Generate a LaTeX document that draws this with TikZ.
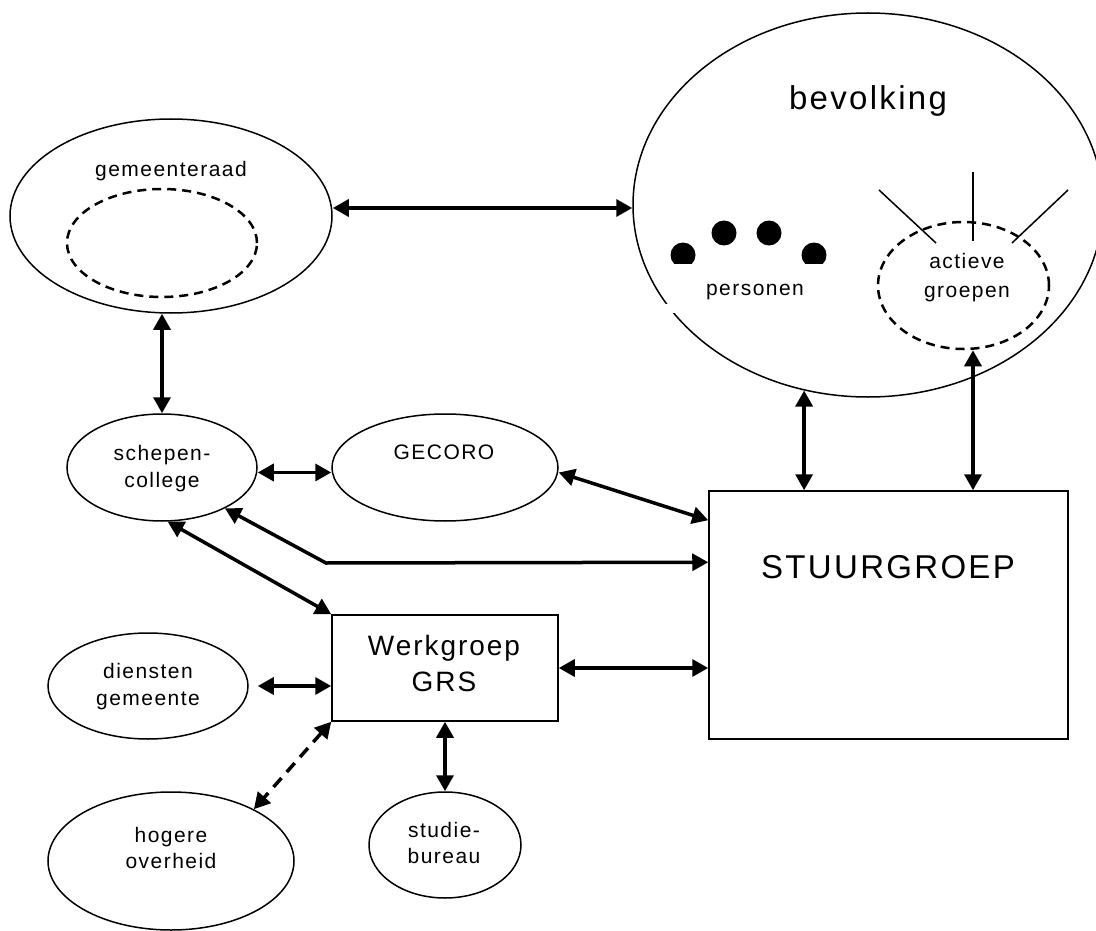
\documentclass[tikz,border=0pt]{standalone}
\usepackage{fontspec}
\setmainfont{Liberation Sans}[LetterSpace=7]
\usetikzlibrary{shapes.geometric,arrows.meta,calc}
\tikzset{
  ell/.style={draw, ellipse, line width=1.5pt, inner sep=0pt},
  dell/.style={draw, ellipse, line width=2.5pt, dash pattern=on 9pt off 6pt, inner sep=0pt},
  boxnode/.style={draw, rectangle, line width=1.5pt, inner sep=0pt},
  tip/.tip={Triangle[length=16pt,width=17pt]},
  biarr/.style={line width=3.5pt, tip-tip},
  txt/.style={anchor=base, inner sep=0pt, font=\fontsize{21}{25}\selectfont},
  bigtxt/.style={anchor=base, inner sep=0pt, font=\fontsize{28}{32}\selectfont},
  hugetxt/.style={anchor=base, inner sep=0pt, font=\fontsize{33}{38}\selectfont},
}
\begin{document}
\begin{tikzpicture}[x=1pt,y=-1pt]
\useasboundingbox (0,0) rectangle (1096,931);

% nodes
\node[ell, minimum width=322pt, minimum height=194pt] (gr) at (171,216) {};
\node[dell, minimum width=190pt, minimum height=108pt] (grin) at (162,243) {};
\node[ell, minimum width=470pt, minimum height=384pt] (bev) at (868,205) {};
\node[dell, minimum width=171pt, minimum height=127pt] (ag) at (963.5,285.5) {};
\node[ell, minimum width=190pt, minimum height=107pt] (sc) at (162,467.5) {};
\node[ell, minimum width=226pt, minimum height=107pt] (gec) at (445,467.5) {};
\node[boxnode, minimum width=359pt, minimum height=248pt] (stuur) at (888.5,615) {};
\node[boxnode, minimum width=226pt, minimum height=106pt] (wg) at (445,668) {};
\node[ell, minimum width=200pt, minimum height=106pt] (dg) at (148,686) {};
\node[ell, minimum width=246pt, minimum height=138pt] (ho) at (171,861) {};
\node[ell, minimum width=152pt, minimum height=106pt] (sb) at (445,845) {};

% small gap in the bevolking outline
\fill[white] (664,304) rectangle (677,313);

% texts
\node[txt] (tgr) at (171,177) {gemeenteraad};
\node[hugetxt] (tbev) at (868,110) {bevolking};
\node[txt] (tper) at (755,295) {personen};
\node[txt] (tag1) at (967,269) {actieve};
\node[txt] (tag2) at (967,297) {groepen};
\node[txt] (tsc1) at (162,460) {schepen-};
\node[txt] (tsc2) at (162,487) {college};
\node[txt] (tgec) at (444,459) {GECORO};
\node[bigtxt] (twg1) at (444,655) {Werkgroep};
\node[bigtxt] (twg2) at (444,691) {GRS};
\node[hugetxt] (tst) at (888,578) {STUURGROEP};
\node[txt] (tdg1) at (148,678) {diensten};
\node[txt] (tdg2) at (148,705) {gemeente};
\node[txt] (tho1) at (171,842) {hogere};
\node[txt] (tho2) at (171,868) {overheid};
\node[txt] (tsb1) at (444,837) {studie-};
\node[txt] (tsb2) at (444,863) {bureau};

% persons (dots)
\begin{scope}
\clip (650,200) rectangle (850,263);
\fill (683,255) circle (12.5);
\fill (724,233) circle (12.5);
\fill (769,233) circle (12.5);
\fill (814,255) circle (12.5);
\end{scope}

% rays around actieve groepen
\draw[line width=1.5pt] (879,190) -- (936,243);
\draw[line width=1.5pt] (973,172) -- (973,241);
\draw[line width=1.5pt] (1068,190) -- (1012,243);

% connectors
\draw[biarr] ($(gr.east)+(0,-8)$) -- ($(bev.west)+(0,3)$);
\draw[biarr] (sc.north |- gr.south) -- (sc.north);
\draw[biarr] ($(sc.east)+(0,5)$) -- ($(gec.west)+(0,5)$);
\draw[biarr] ($(gec.east)+(0,5)$) -- ($(stuur.north west)+(0,30)$);
\coordinate (bend) at (326,563);
\draw[biarr] (sc.-33) -- (bend) -- ($(stuur.north west)+(0,72)$);
\draw[biarr] (sc.-84) -- (wg.north west);
\draw[biarr] (wg.east) -- (wg.east -| stuur.west);
\draw[biarr] ($(dg.east)+(9,0)$) -- (wg.west |- dg.east);
\draw[line width=3.5pt, dash pattern=on 12pt off 8pt, tip-tip] (wg.south west) -- (ho.32);
\draw[biarr] (wg.south) -- (sb.north);
\draw[biarr] (bev.-109.4) -- (bev.-109.4 |- stuur.north);
\coordinate (agb) at ($(ag.south)+(9.5,0)$);
\draw[biarr] (agb) -- (agb |- stuur.north);
\end{tikzpicture}
\end{document}
